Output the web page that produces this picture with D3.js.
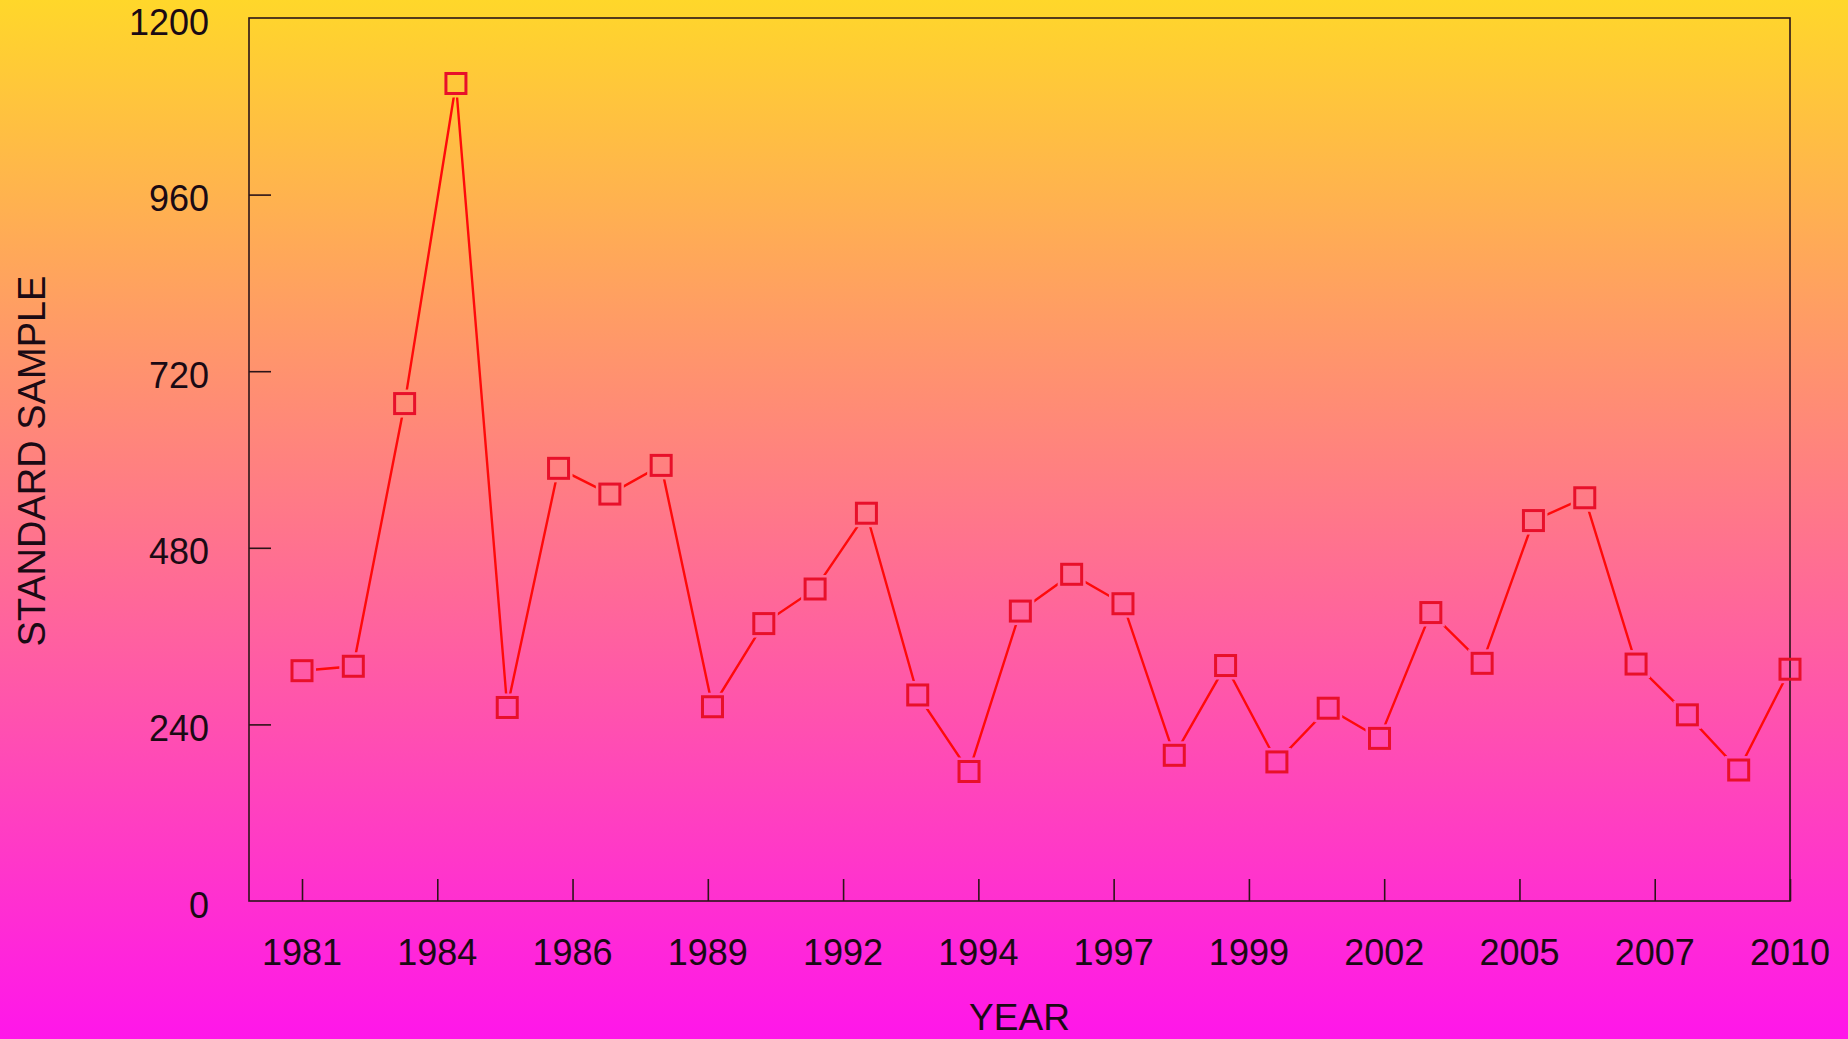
<!DOCTYPE html>
<html>
<head>
<meta charset="utf-8">
<script src="https://cdn.jsdelivr.net/npm/d3@7"></script>
<style>
  html, body { margin: 0; padding: 0; overflow: hidden; }
  svg { display: block; }
  text { font-family: "Liberation Sans", Arial, sans-serif; fill: #1a0a14; }
</style>
</head>
<body>
<svg id="chart" width="1848" height="1039"></svg>
<script>
// ---- data ----
const years = [1981,1982,1983,1984,1985,1986,1987,1988,1989,1990,
               1991,1992,1993,1994,1995,1996,1997,1998,1999,2000,
               2001,2002,2003,2004,2005,2006,2007,2008,2009,2010];
const values = [313,319,676,1111,263,588,553,592,264,377,
                424,527,280,176,394,444,404,198,320,189,
                262,221,392,323,517,548,322,253,178,315];
const xTickLabels = ["1981","1984","1986","1989","1992","1994","1997","1999","2002","2005","2007","2010"];
const yTickValues = [0,240,480,720,960,1200];
const xTitle = "YEAR";
const yTitle = "STANDARD SAMPLE";

// ---- layout ----
const W = 1848, H = 1039;
const plot = { left: 249, right: 1790, top: 18, bottom: 901 };
const firstX = 302;

const svg = d3.select("#chart");
const defs = svg.append("defs");

const grad = defs.append("linearGradient")
  .attr("id", "bg").attr("x1", 0).attr("y1", 0).attr("x2", 0).attr("y2", 1);
grad.append("stop").attr("offset", "0%").attr("stop-color", "#ffd72a");
grad.append("stop").attr("offset", "100%").attr("stop-color", "#ff16ea");

svg.append("rect").attr("width", W).attr("height", H).attr("fill", "url(#bg)");

const x = d3.scaleLinear().domain([years[0], years[years.length - 1]]).range([firstX, plot.right]);
const y = d3.scaleLinear().domain([0, 1200]).range([plot.bottom, plot.top]);
const xTickScale = d3.scalePoint().domain(xTickLabels).range([firstX, plot.right]);

const axisColor = "#2b1418";

// frame
svg.append("rect")
  .attr("x", plot.left).attr("y", plot.top)
  .attr("width", plot.right - plot.left).attr("height", plot.bottom - plot.top)
  .attr("fill", "none").attr("stroke", axisColor).attr("stroke-width", 1.6);

// y axis (inner ticks)
const yAxis = d3.axisRight(y).tickValues(yTickValues).tickSize(22).tickFormat("");
const yg = svg.append("g").attr("transform", `translate(${plot.left},0)`).call(yAxis);
yg.select(".domain").remove();
yg.selectAll(".tick line").attr("stroke", axisColor).attr("stroke-width", 1.6)
  .filter(d => d === 0 || d === 1200).remove();

svg.append("g").selectAll("text").data(yTickValues).join("text")
  .attr("x", 209).attr("y", d => y(d) + 16.5)
  .attr("text-anchor", "end")
  .style("font-size", "36px")
  .text(d => d);

// x axis (inner ticks)
const xAxis = d3.axisTop(xTickScale).tickSize(22).tickFormat("");
const xg = svg.append("g").attr("transform", `translate(0,${plot.bottom})`).call(xAxis);
xg.select(".domain").remove();
xg.selectAll(".tick line").attr("stroke", axisColor).attr("stroke-width", 1.6);

svg.append("g").selectAll("text").data(xTickLabels).join("text")
  .attr("x", d => xTickScale(d)).attr("y", 965)
  .attr("text-anchor", "middle")
  .style("font-size", "36px")
  .text(d => d);

// titles
svg.append("text")
  .attr("x", (plot.left + plot.right) / 2).attr("y", 1030)
  .attr("text-anchor", "middle")
  .style("font-size", "37px")
  .text(xTitle);

svg.append("text")
  .attr("transform", `translate(45,${461}) rotate(-90)`)
  .attr("text-anchor", "middle")
  .style("font-size", "38px")
  .text(yTitle);

// mask leaving gaps around markers
const pts = years.map((yr, i) => ({ yr, v: values[i] }));
const mask = defs.append("mask").attr("id", "gapmask").attr("maskUnits", "userSpaceOnUse")
  .attr("x", 0).attr("y", 0).attr("width", W).attr("height", H);
mask.append("rect").attr("width", W).attr("height", H).attr("fill", "white");
mask.selectAll("rect.hole").data(pts).join("rect").attr("class", "hole")
  .attr("x", d => x(d.yr) - 14).attr("y", d => y(d.v) - 14)
  .attr("width", 28).attr("height", 28).attr("fill", "black");

const line = d3.line().x(d => x(d.yr)).y(d => y(d.v));
svg.append("path").datum(pts)
  .attr("d", line)
  .attr("fill", "none").attr("stroke", "#ff0a0a").attr("stroke-width", 2.4)
  .attr("mask", "url(#gapmask)");

svg.append("g").selectAll("rect").data(pts).join("rect")
  .attr("x", d => x(d.yr) - 10).attr("y", d => y(d.v) - 10)
  .attr("width", 20).attr("height", 20)
  .attr("fill", "none").attr("stroke", "#e8102a").attr("stroke-width", 3);
</script>
</body>
</html>
